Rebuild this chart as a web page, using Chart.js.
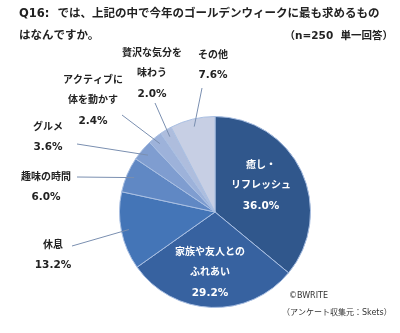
<!DOCTYPE html>
<html>
<head>
<meta charset="utf-8">
<script src="https://cdn.jsdelivr.net/npm/chart.js@4/dist/chart.umd.min.js"></script>
<style>
html,body{margin:0;padding:0;background:#fff;}
#wrap{position:relative;width:400px;height:333px;}
</style>
</head>
<body>
<div id="wrap"><canvas id="c"></canvas></div>
<script>
// ---- data ----
const categories = ['癒し・リフレッシュ', '家族や友人とのふれあい', '休息', '趣味の時間', 'グルメ', 'アクティブに体を動かす', '贅沢な気分を味わう', 'その他'];
const labelLines = [['癒し・', 'リフレッシュ'], ['家族や友人との', 'ふれあい'], ['休息'], ['趣味の時間'], ['グルメ'], ['アクティブに', '体を動かす'], ['贅沢な気分を', '味わう'], ['その他']];
const values = [36.0, 29.2, 13.2, 6.0, 3.6, 2.4, 2.0, 7.6];
const titleLines = ['Q16:  では、上記の中で今年のゴールデンウィークに最も求めるもの', 'はなんですか。'];
const noteText = '（n=250  単一回答）';
const footerLines = ['©BWRITE', '（アンケート収集元：Skets）'];

const colors = ['#30578c', '#3762a0', '#4475b7', '#6088c4', '#7f9dd0', '#9db2da', '#aebddd', '#c7cfe4'];

// ---- label layout (text positions) ----
const JP = '"DejaVu Sans", "Noto Sans CJK JP", sans-serif';
const layout = [
  {inside: true, x: 261, y: 165, color: '#ffffff'},
  {inside: true, x: 210, y: 252, color: '#ffffff'},
  {x: 53, y: 245, lx: 72, ly: 246},
  {x: 46, y: 177, lx: 77, ly: 177},
  {x: 48, y: 127, lx: 77, ly: 144},
  {x: 93, y: 80, lx: 122, ly: 115},
  {x: 152, y: 53, lx: 155, ly: 103},
  {x: 213, y: 55, lx: 202, ly: 88}
];

const labelPlugin = {
  id: 'labels',
  afterDraw(chart) {
    const ctx = chart.ctx;
    const meta = chart.getDatasetMeta(0);
    ctx.save();
    // title
    ctx.fillStyle = '#222';
    ctx.textBaseline = 'middle';
    ctx.textAlign = 'left';
    ctx.font = 'bold 11.5px ' + JP;
    ctx.fillText(titleLines[0], 19, 14);
    ctx.fillText(titleLines[1], 19, 36);
    ctx.textAlign = 'right';
    ctx.font = 'bold 10.5px ' + JP;
    ctx.fillText(noteText, 393, 36);
    // footer
    ctx.textAlign = 'left';
    ctx.font = '8px ' + JP;
    ctx.fillStyle = '#333';
    ctx.fillText(footerLines[0], 289, 296);
    ctx.fillText(footerLines[1], 282, 313);

    meta.data.forEach((arc, i) => {
      const L = layout[i];
      const lines = labelLines[i].concat([values[i].toFixed(1) + '%']);
      if (!L.inside) {
        const mid = (arc.startAngle + arc.endAngle) / 2;
        const r = arc.outerRadius * 0.92;
        const ex = arc.x + Math.cos(mid) * r;
        const ey = arc.y + Math.sin(mid) * r;
        ctx.strokeStyle = '#7a8fb0';
        ctx.lineWidth = 1;
        ctx.beginPath();
        ctx.moveTo(L.lx, L.ly);
        ctx.lineTo(ex, ey);
        ctx.stroke();
      }
      ctx.fillStyle = L.color || '#222';
      ctx.textAlign = 'center';
      ctx.textBaseline = 'middle';
      lines.forEach((t, k) => {
        const isPct = k === lines.length - 1;
        ctx.font = (isPct ? 'bold 10.5px ' : 'bold 10px ') + JP;
        ctx.fillText(t, L.x, L.y + k * 20.5);
      });
    });
    ctx.restore();
  }
};

new Chart(document.getElementById('c'), {
  type: 'pie',
  data: {
    labels: categories,
    datasets: [{
      data: values,
      backgroundColor: colors,
      borderColor: '#a9bfe2',
      borderWidth: 1,
      hoverOffset: 0
    }]
  },
  options: {
    responsive: true,
    maintainAspectRatio: false,
    animation: false,
    layout: {padding: {left: 119, right: 89, top: 116, bottom: 25}},
    plugins: {legend: {display: false}, tooltip: {enabled: false}, title: {display: false}},
    events: []
  },
  plugins: [labelPlugin]
});
</script>
</body>
</html>
